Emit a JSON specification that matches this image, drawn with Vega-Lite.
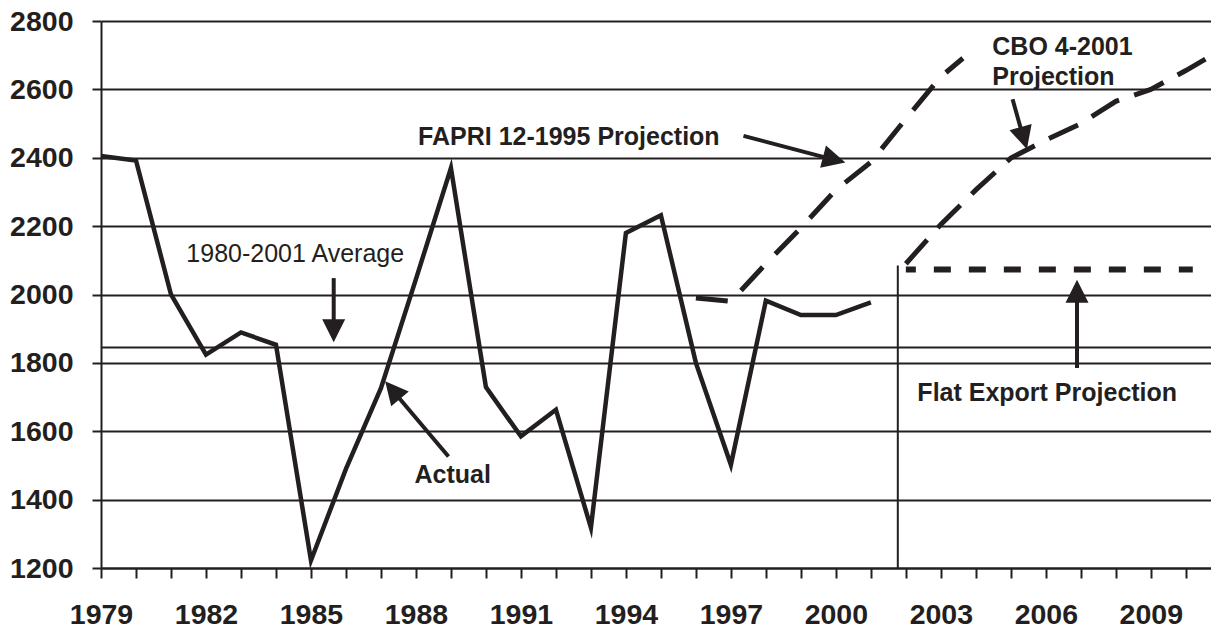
{
  "$schema": "https://vega.github.io/schema/vega-lite/v6.json",
  "width": 1110,
  "height": 547,
  "autosize": {"type": "none"},
  "padding": {"left": 101, "top": 21, "right": 0, "bottom": 60},
  "background": "white",
  "config": {
    "view": {"stroke": null},
    "font": "Liberation Sans",
    "text": {"font": "Liberation Sans", "color": "#231f20"}
  },
  "datasets": {
    "actual": [
      {"x": 1979, "y": 2405}, {"x": 1980, "y": 2392}, {"x": 1981, "y": 2000}, {"x": 1982, "y": 1824},
      {"x": 1983, "y": 1889}, {"x": 1984, "y": 1853}, {"x": 1985, "y": 1222}, {"x": 1986, "y": 1490},
      {"x": 1987, "y": 1726}, {"x": 1988, "y": 2045}, {"x": 1989, "y": 2370}, {"x": 1990, "y": 1729},
      {"x": 1991, "y": 1585}, {"x": 1992, "y": 1663}, {"x": 1993, "y": 1318}, {"x": 1994, "y": 2180},
      {"x": 1995, "y": 2232}, {"x": 1996, "y": 1800}, {"x": 1997, "y": 1502}, {"x": 1998, "y": 1982},
      {"x": 1999, "y": 1940}, {"x": 2000, "y": 1940}, {"x": 2001, "y": 1977}
    ],
    "fapri": [
      {"x": 1996, "y": 1990}, {"x": 1997, "y": 1980}, {"x": 1998, "y": 2090}, {"x": 1999, "y": 2195},
      {"x": 2000, "y": 2306}, {"x": 2001, "y": 2387}, {"x": 2002, "y": 2514}, {"x": 2003, "y": 2637},
      {"x": 2003.63, "y": 2691}
    ],
    "cbo": [
      {"x": 2002, "y": 2090}, {"x": 2003, "y": 2205}, {"x": 2004, "y": 2306}, {"x": 2005, "y": 2399},
      {"x": 2006, "y": 2452}, {"x": 2007, "y": 2500}, {"x": 2008, "y": 2565}, {"x": 2009, "y": 2600},
      {"x": 2010, "y": 2655}, {"x": 2011, "y": 2715}
    ],
    "flat": [
      {"x": 2002, "y": 2073}, {"x": 2003, "y": 2073}, {"x": 2004, "y": 2073}, {"x": 2005, "y": 2073},
      {"x": 2006, "y": 2073}, {"x": 2007, "y": 2073}, {"x": 2008, "y": 2073}, {"x": 2009, "y": 2073},
      {"x": 2010.2, "y": 2073}
    ],
    "average": [{"x": 1979, "x2": 2010.72, "y": 1845}],
    "divider": [{"x": 2001.77, "y": 1200, "y2": 2085}],
    "arrowLines": [
      {"x": 1985.65, "y": 2048, "x2": 1985.65, "y2": 1925},
      {"x": 1997.36, "y": 2464, "x2": 1999.66, "y2": 2402},
      {"x": 2005.05, "y": 2571, "x2": 2005.28, "y2": 2487},
      {"x": 2006.89, "y": 1785, "x2": 2006.89, "y2": 1981},
      {"x": 1988.93, "y": 1526, "x2": 1987.53, "y2": 1696}
    ],
    "arrowHeads": [
      {"x": 1985.65, "y": 1860, "angle": 180},
      {"x": 2000.27, "y": 2386, "angle": 104.7},
      {"x": 2005.46, "y": 2425, "angle": 163.9},
      {"x": 2006.89, "y": 2043, "angle": 0},
      {"x": 1987.12, "y": 1746, "angle": 319.8}
    ],
    "centerLabels": [
      {"x": 1992.37, "y": 2438, "text": "FAPRI 12-1995 Projection"},
      {"x": 1989.05, "y": 1450, "text": "Actual"},
      {"x": 2006.04, "y": 1688, "text": "Flat Export Projection"}
    ],
    "leftLabels": [
      {"x": 2004.47, "y": 2701, "text": "CBO 4-2001"},
      {"x": 2004.47, "y": 2613, "text": "Projection"}
    ],
    "plainLabels": [
      {"x": 1984.55, "y": 2096, "text": "1980-2001 Average"}
    ]
  },
  "encoding": {
    "x": {
      "field": "x", "type": "quantitative",
      "scale": {"domain": [1979, 2010.72], "nice": false, "zero": false},
      "axis": {
        "title": null,
        "values": [1979,1980,1981,1982,1983,1984,1985,1986,1987,1988,1989,1990,1991,1992,1993,1994,1995,1996,1997,1998,1999,2000,2001,2002,2003,2004,2005,2006,2007,2008,2009,2010],
        "format": "d",
        "labelExpr": "(datum.value - 1979) % 3 == 0 ? datum.label : ''",
        "grid": false,
        "domain": true, "domainColor": "#231f20", "domainWidth": 2,
        "ticks": true, "tickColor": "#231f20", "tickWidth": 2, "tickSize": 10,
        "labelFont": "Liberation Sans", "labelFontWeight": "bold", "labelFontSize": 28.5,
        "labelColor": "#231f20", "labelPadding": 22, "labelFlush": false, "labelOverlap": false
      }
    },
    "y": {
      "field": "y", "type": "quantitative",
      "scale": {"domain": [1200, 2800], "nice": false, "zero": false},
      "axis": {
        "title": null,
        "values": [1200,1400,1600,1800,2000,2200,2400,2600,2800],
        "format": "d",
        "grid": true, "gridColor": "#231f20", "gridWidth": 2, "gridOpacity": 1,
        "domain": true, "domainColor": "#231f20", "domainWidth": 2,
        "ticks": true, "tickColor": "#231f20", "tickWidth": 2, "tickSize": 9,
        "labelFont": "Liberation Sans", "labelFontWeight": "bold", "labelFontSize": 28.5,
        "labelColor": "#231f20", "labelPadding": 19, "labelFlush": false, "labelOverlap": false
      }
    }
  },
  "layer": [
    {
      "data": {"name": "average"},
      "mark": {"type": "rule", "color": "#231f20", "strokeWidth": 2},
      "encoding": {"x2": {"field": "x2"}}
    },
    {
      "data": {"name": "divider"},
      "mark": {"type": "rule", "color": "#231f20", "strokeWidth": 2},
      "encoding": {"y2": {"field": "y2"}}
    },
    {
      "data": {"name": "actual"},
      "mark": {"type": "line", "color": "#231f20", "strokeWidth": 4.5, "strokeJoin": "miter", "strokeMiterLimit": 10}
    },
    {
      "data": {"name": "fapri"},
      "mark": {"type": "line", "color": "#231f20", "strokeWidth": 5, "strokeDash": [32, 18], "strokeJoin": "miter"}
    },
    {
      "data": {"name": "cbo"},
      "mark": {"type": "line", "color": "#231f20", "strokeWidth": 5, "strokeDash": [32, 16], "strokeJoin": "miter", "clip": true}
    },
    {
      "data": {"name": "flat"},
      "mark": {"type": "line", "color": "#231f20", "strokeWidth": 6, "strokeDash": [17, 18], "strokeDashOffset": 7}
    },
    {
      "data": {"name": "arrowLines"},
      "mark": {"type": "rule", "color": "#231f20", "strokeWidth": 4},
      "encoding": {"x2": {"field": "x2"}, "y2": {"field": "y2"}}
    },
    {
      "data": {"name": "arrowHeads"},
      "mark": {"type": "point", "shape": "M0,0L-0.5,1L0.5,1Z", "size": 2116, "filled": true, "color": "#231f20", "opacity": 1, "strokeWidth": 0},
      "encoding": {"angle": {"field": "angle", "type": "quantitative", "scale": null}}
    },
    {
      "data": {"name": "centerLabels"},
      "mark": {"type": "text", "fontSize": 25, "fontWeight": "bold", "baseline": "alphabetic", "align": "center", "color": "#231f20"},
      "encoding": {"text": {"field": "text"}}
    },
    {
      "data": {"name": "leftLabels"},
      "mark": {"type": "text", "fontSize": 25, "fontWeight": "bold", "baseline": "alphabetic", "align": "left", "color": "#231f20"},
      "encoding": {"text": {"field": "text"}}
    },
    {
      "data": {"name": "plainLabels"},
      "mark": {"type": "text", "fontSize": 25, "fontWeight": "normal", "baseline": "alphabetic", "align": "center", "color": "#231f20"},
      "encoding": {"text": {"field": "text"}}
    }
  ]
}
